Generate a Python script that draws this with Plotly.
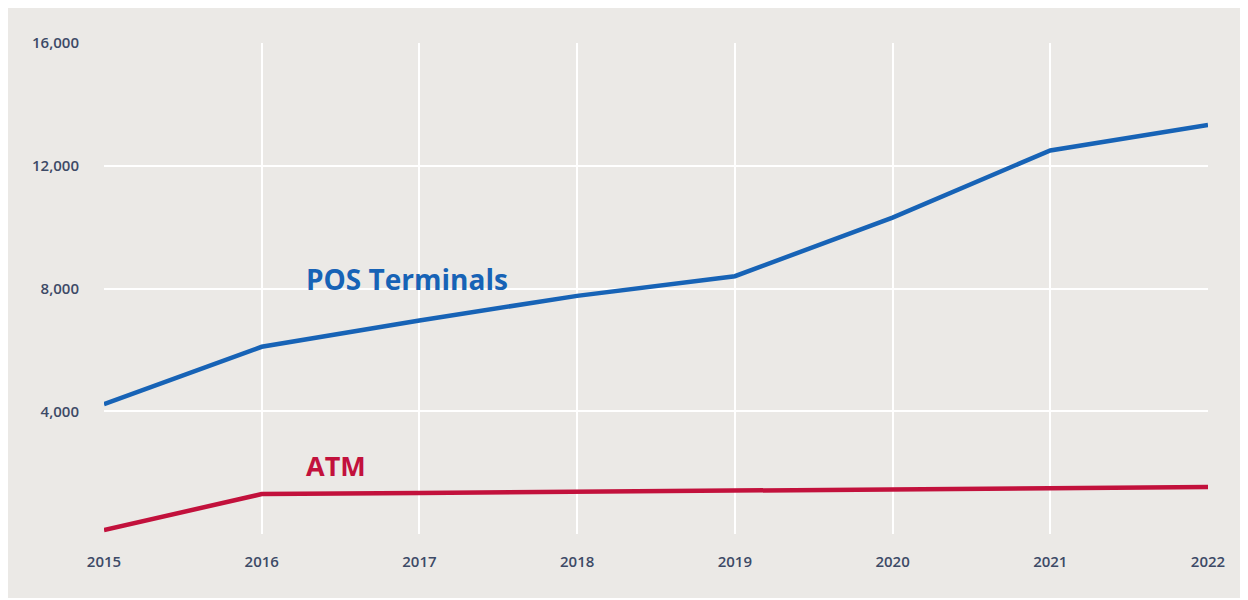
import plotly.graph_objects as go

years = [2015, 2016, 2017, 2018, 2019, 2020, 2021, 2022]
pos_terminals = [4230, 6100, 6960, 7760, 8400, 10310, 12500, 13330]
atm = [130, 1300, 1340, 1370, 1410, 1450, 1490, 1530]
y_ticks = [0, 4000, 8000, 12000, 16000]
y_labels = ["", "4,000", "8,000", "12,000", "16,000"]

BLUE = "#1763b6"
RED = "#c2113c"
BG = "#ebe9e6"
TXT = "#3d4a66"
FONT = "Open Sans"

fig = go.Figure()
fig.add_trace(go.Scatter(x=years, y=pos_terminals, mode="lines", name="POS Terminals",
                         line=dict(color=BLUE, width=4.5)))
fig.add_trace(go.Scatter(x=years, y=atm, mode="lines", name="ATM",
                         line=dict(color=RED, width=4.5)))

fig.add_annotation(x=2016.27, y=8310, text="<b>POS Terminals</b>", showarrow=False,
                   xanchor="left", yanchor="middle",
                   font=dict(family=FONT, size=28, color=BLUE))
fig.add_annotation(x=2016.27, y=2220, text="<b>ATM</b>", showarrow=False,
                   xanchor="left", yanchor="middle",
                   font=dict(family=FONT, size=27, color=RED))

fig.update_layout(
    width=1240, height=590,
    margin=dict(l=96, r=40, t=35, b=64),
    paper_bgcolor=BG,
    plot_bgcolor=BG,
    showlegend=False,
    font=dict(family=FONT, size=15, color=TXT),
)
fig.update_xaxes(range=[2015, 2022], tickvals=years, ticktext=[str(y) for y in years],
                 showgrid=True, gridcolor="white", gridwidth=2, zeroline=False,
                 showline=False, ticks="", ticklabelstandoff=17,
                 tickfont=dict(family=FONT, size=15, color=TXT, weight=600))
fig.update_yaxes(range=[0, 16000], tickvals=y_ticks, ticktext=y_labels,
                 showgrid=True, gridcolor="white", gridwidth=2, zeroline=False,
                 showline=False, ticks="", ticklabelstandoff=24,
                 tickfont=dict(family=FONT, size=15, color=TXT, weight=600))

fig.write_html("out.html")
